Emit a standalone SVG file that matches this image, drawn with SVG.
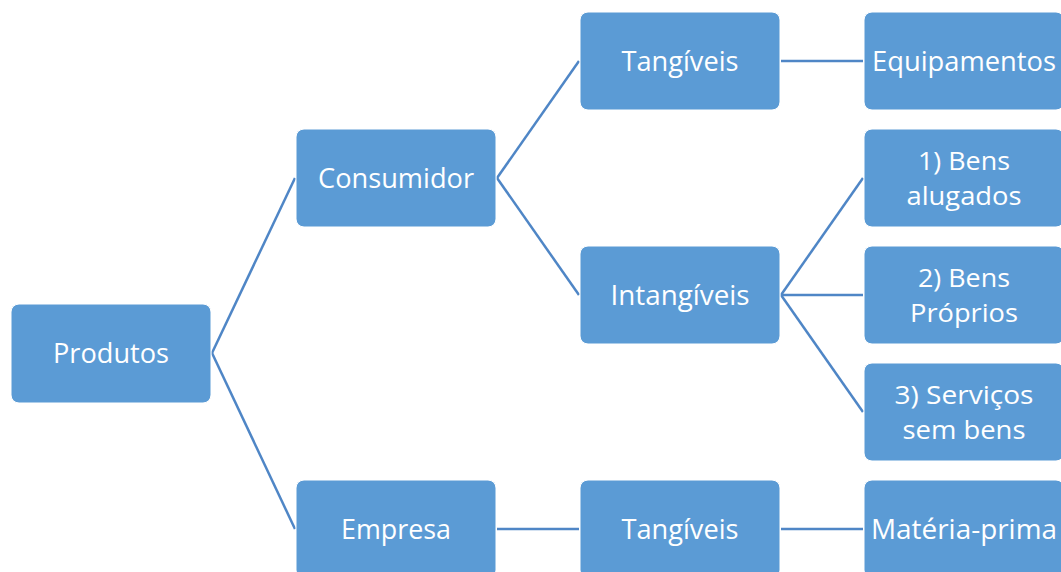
<svg xmlns="http://www.w3.org/2000/svg" width="1061" height="572" viewBox="0 0 1061 572">
  <style>
    .box { fill: #5b9bd5; stroke: #ffffff; stroke-width: 1; }
    .lbl { fill: #ffffff; font-family: "Open Sans", "Liberation Sans", sans-serif; font-size: 28px; text-anchor: middle; }
    .two { font-size: 25px; }
    .link { stroke: #4f86c6; stroke-width: 2.5; fill: none; }
  </style>
  <rect width="1061" height="572" fill="#ffffff"/>

  <g id="connectors">
    <line class="link" x1="212" y1="353" x2="295" y2="178"/>
    <line class="link" x1="212" y1="353" x2="295" y2="529"/>
    <line class="link" x1="497" y1="178" x2="579" y2="61"/>
    <line class="link" x1="497" y1="178" x2="579" y2="295"/>
    <line class="link" x1="781" y1="61" x2="863" y2="61"/>
    <line class="link" x1="781" y1="295" x2="863" y2="178"/>
    <line class="link" x1="781" y1="295" x2="863" y2="295"/>
    <line class="link" x1="781" y1="295" x2="863" y2="412"/>
    <line class="link" x1="497" y1="529" x2="579" y2="529"/>
    <line class="link" x1="781" y1="529" x2="863" y2="529"/>
  </g>

  <g id="produtos">
    <rect class="box" x="11" y="304" width="200" height="99" rx="8"/>
    <text class="lbl" x="111" y="363" textLength="116" lengthAdjust="spacingAndGlyphs">Produtos</text>
  </g>
  <g id="consumidor">
    <rect class="box" x="296" y="129" width="200" height="98" rx="8"/>
    <text class="lbl" x="396" y="188" textLength="156" lengthAdjust="spacingAndGlyphs">Consumidor</text>
  </g>
  <g id="empresa">
    <rect class="box" x="296" y="480" width="200" height="98" rx="8"/>
    <text class="lbl" x="396" y="539" textLength="110" lengthAdjust="spacingAndGlyphs">Empresa</text>
  </g>
  <g id="tangiveis-consumidor">
    <rect class="box" x="580" y="12" width="200" height="98" rx="8"/>
    <text class="lbl" x="680" y="71" textLength="117" lengthAdjust="spacingAndGlyphs">Tangíveis</text>
  </g>
  <g id="intangiveis">
    <rect class="box" x="580" y="246" width="200" height="98" rx="8"/>
    <text class="lbl" x="680" y="305" textLength="139" lengthAdjust="spacingAndGlyphs">Intangíveis</text>
  </g>
  <g id="tangiveis-empresa">
    <rect class="box" x="580" y="480" width="200" height="98" rx="8"/>
    <text class="lbl" x="680" y="539" textLength="117" lengthAdjust="spacingAndGlyphs">Tangíveis</text>
  </g>
  <g id="equipamentos">
    <rect class="box" x="864" y="12" width="200" height="98" rx="8"/>
    <text class="lbl" x="964" y="71" textLength="184" lengthAdjust="spacingAndGlyphs">Equipamentos</text>
  </g>
  <g id="bens-alugados">
    <rect class="box" x="864" y="129" width="200" height="98" rx="8"/>
    <text class="lbl two" x="964" y="170" textLength="92" lengthAdjust="spacingAndGlyphs">1) Bens</text>
    <text class="lbl two" x="964" y="205" textLength="115" lengthAdjust="spacingAndGlyphs">alugados</text>
  </g>
  <g id="bens-proprios">
    <rect class="box" x="864" y="246" width="200" height="98" rx="8"/>
    <text class="lbl two" x="964" y="287" textLength="92" lengthAdjust="spacingAndGlyphs">2) Bens</text>
    <text class="lbl two" x="964" y="322" textLength="108" lengthAdjust="spacingAndGlyphs">Próprios</text>
  </g>
  <g id="servicos-sem-bens">
    <rect class="box" x="864" y="363" width="200" height="98" rx="8"/>
    <text class="lbl two" x="964" y="404" textLength="139" lengthAdjust="spacingAndGlyphs">3) Serviços</text>
    <text class="lbl two" x="964" y="439" textLength="123" lengthAdjust="spacingAndGlyphs">sem bens</text>
  </g>
  <g id="materia-prima">
    <rect class="box" x="864" y="480" width="200" height="98" rx="8"/>
    <text class="lbl" x="964" y="539" textLength="186" lengthAdjust="spacingAndGlyphs">Matéria-prima</text>
  </g>
</svg>
